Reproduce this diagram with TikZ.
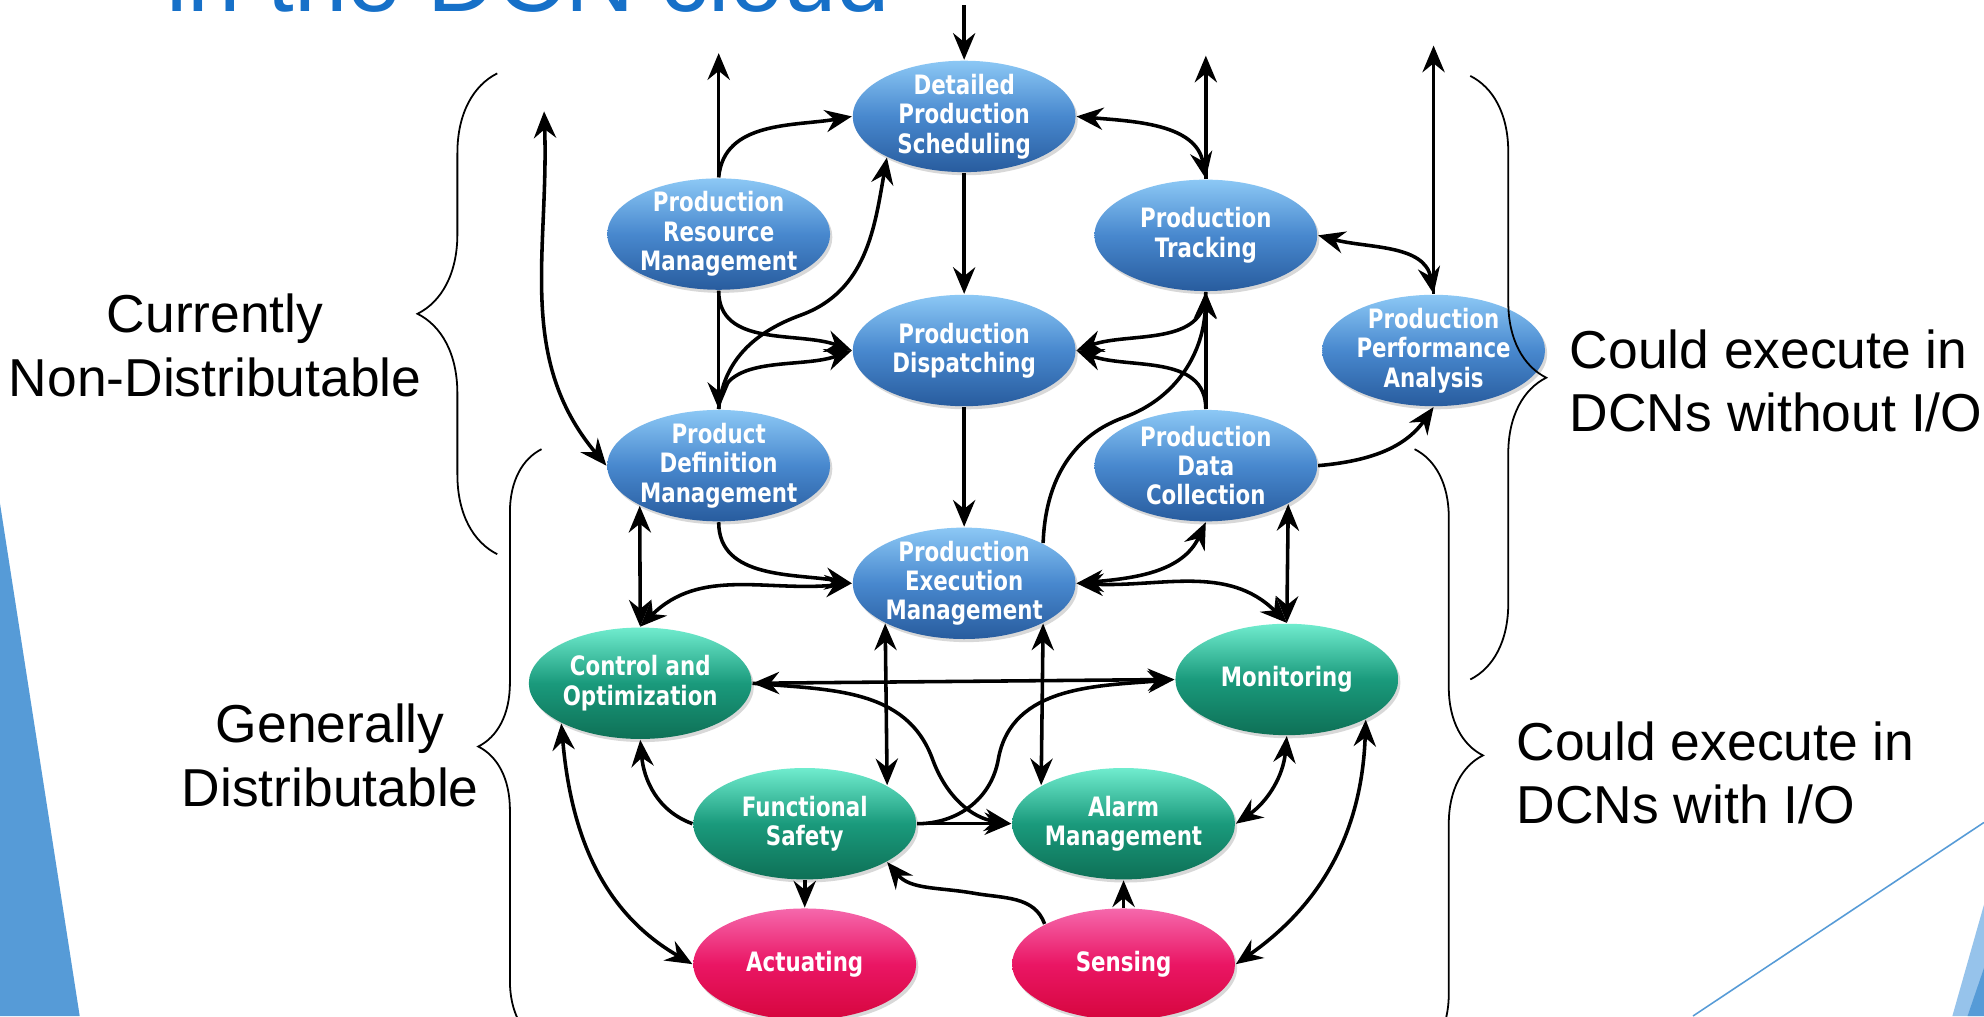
\documentclass[tikz,border=0pt]{standalone}
\usepackage{fontspec}
\setmainfont{Liberation Sans}
\newfontfamily\bubblefont{DejaVu Sans}[FakeStretch=0.8]
\usetikzlibrary{shapes.geometric,arrows.meta,decorations.pathreplacing,shadows}
\definecolor{planhi}{RGB}{140,200,245}
\definecolor{planmid}{RGB}{72,136,206}
\definecolor{planlo}{RGB}{40,92,158}
\definecolor{ctrlhi}{RGB}{112,236,206}
\definecolor{ctrlmid}{RGB}{26,154,124}
\definecolor{ctrllo}{RGB}{14,112,86}
\definecolor{iohi}{RGB}{245,104,172}
\definecolor{iomid}{RGB}{234,22,100}
\definecolor{iolo}{RGB}{214,6,62}
\definecolor{titleblue}{RGB}{22,112,200}
\definecolor{slideblue}{RGB}{86,155,215}
\definecolor{slidelight}{RGB}{150,195,235}

\begin{document}
\begin{tikzpicture}[x=0.01cm,y=-0.01cm,
  >={Stealth[length=6pt,width=5pt,inset=2pt]},
  bubble/.style={ellipse,minimum width=1.76cm,minimum height=0.88cm,
    inner xsep=-1pt,inner ysep=-5pt,align=center,text=white,
    font=\bubblefont\bfseries\fontsize{6}{6.6}\selectfont,
    drop shadow={shadow xshift=0.5pt,shadow yshift=-0.7pt,opacity=0.3}},
  planbubble/.style={bubble,top color=planhi,bottom color=planlo,middle color=planmid},
  ctrlbubble/.style={bubble,top color=ctrlhi,bottom color=ctrllo,middle color=ctrlmid},
  iobubble/.style={bubble,top color=iohi,bottom color=iolo,middle color=iomid},
  link/.style={line width=0.8pt},
  bracket/.style={decorate,decoration={brace,amplitude=#1},line width=0.4pt},
  sidetext/.style={inner sep=0pt,font=\fontsize{12}{14.2}\selectfont}]
\path[fill=white,use as bounding box] (0,0) rectangle (1568,803);

\fill[slideblue] (0,398) -- (63,803) -- (0,803) -- cycle;
\draw[slideblue,line width=0.35pt] (1338,803) -- (1568,650);
\fill[slidelight] (1568,715) -- (1543,803) -- (1568,803) -- cycle;
\fill[slideblue] (1568,765) -- (1555,803) -- (1568,803) -- cycle;

\node[anchor=base west,inner sep=0pt,text=titleblue,font=\fontsize{21.5}{26}\selectfont]
  (title) at (131,9) {in the DCN cloud};

\node[planbubble] (dps) at (762,92) {Detailed\\Production\\Scheduling};
\node[planbubble] (prm) at (568,185) {Production\\Resource\\Management};
\node[planbubble] (pt) at (953,186) {Production\\Tracking};
\node[planbubble] (pd) at (762,277) {Production\\Dispatching};
\node[planbubble] (ppa) at (1133,277) {Production\\Performance\\Analysis};
\node[planbubble] (pdm) at (568,368) {Product\\Definition\\Management};
\node[planbubble] (pdc) at (953,368) {Production\\Data\\Collection};
\node[planbubble] (pem) at (762,461) {Production\\Execution\\Management};
\node[ctrlbubble] (co) at (506,540) {Control and\\Optimization};
\node[ctrlbubble] (mon) at (1017,537) {Monitoring};
\node[ctrlbubble] (fs) at (636,651) {Functional\\Safety};
\node[ctrlbubble] (am) at (888,651) {Alarm\\Management};
\node[iobubble] (act) at (636,762) {Actuating};
\node[iobubble] (sen) at (888,762) {Sensing};

\coordinate (dpsin) at (762,4);
\coordinate (prmout) at (568,42);
\coordinate (ptout) at (953,44);
\coordinate (ppaout) at (1133,36);
\coordinate (pdmfar) at (430,88);
\coordinate (bendL) at (633,249);
\coordinate (bendR) at (888,330);
\coordinate (bendC) at (737,600);
\coordinate (bendF) at (789,600);
\coordinate (bendS) at (770,706);

\draw[link,->] (dpsin) -- (dps);
\draw[link,->] (prm.north) -- (prmout);
\draw[link,->] (prm.north) to[out=85,in=190] (dps.west);
\draw[link,<->] (pdmfar) to[out=-88,in=130] (pdm.west);
\draw[link,->] (dps) -- (pd);
\draw[link,->] (pd) -- (pem);
\draw[link,<->] (dps.east) to[out=-5,in=100] (pt.north);
\draw[link,->] (pt.north) -- (ptout);
\draw[link,->] (ppa.north) -- (ppaout);
\draw[link,<->] (pt.east) to[out=-15,in=100] (ppa.north);
\draw[link,->] (prm.south) -- (pdm.north);
\draw[link,->] (prm.south) to[out=-90,in=160] (pd.west);
\draw[link,->] (pdm.north) to[out=90,in=200] (pd.west);
\draw[link,->] (pdm.north) to[out=85,in=200] (bendL) to[out=20,in=-100] (dps.208);
\draw[link,->] (pdc.north) -- (pt.south);
\draw[link,->] (pdc.north) to[out=90,in=-20] (pd.east);
\draw[link,->] (pt.south) to[out=-90,in=20] (pd.east);
\draw[link,->] (pem.27) to[out=88,in=200] (bendR) to[out=20,in=-92] (pt.south);
\draw[link,->] (pdm.south) to[out=-90,in=170] (pem.west);
\draw[link,<->] (pdm.-153) -- (co.north);
\draw[link,<->] (co.north) to[out=45,in=186] (pem.west);
\draw[link,<->] (pem.east) to[out=5,in=-115] (pdc.south);
\draw[link,<->] (pem.east) to[out=-3,in=135] (mon.north);
\draw[link,<->] (pdc.-25) -- (mon.north);
\draw[link,->] (pdc.east) to[out=5,in=-125] (ppa.south);
\draw[link,<->] (pem.-153) -- (fs.25);
\draw[link,<->] (pem.-27) -- (am.155);
\draw[link,<->] (co.east) -- (mon.west);
\draw[link,->] (co.east) to[out=-5,in=110] (bendC) to[out=-70,in=172] (am.west);
\draw[link,->] (fs.east) -- (am.west);
\draw[link,->] (fs.east) to[out=0,in=-100] (bendF) to[out=80,in=185] (mon.west);
\draw[link,->] (fs.west) to[out=160,in=-85] (co.south);
\draw[link,<->] (co.-153) to[out=-85,in=150] (act.west);
\draw[link,->] (fs) -- (act);
\draw[link,->] (sen.153) to[out=110,in=-10] (bendS) to[out=170,in=-50] (fs.-25);
\draw[link,->] (sen) -- (am);
\draw[link,<->] (mon.south) to[out=-95,in=35] (am.east);
\draw[link,<->] (mon.-27) to[out=-92,in=35] (sen.east);

\draw[bracket=0.63cm] (393,438) -- (393,58);
\draw[bracket=0.5cm] (428,825) -- (428,355);
\draw[bracket=0.6cm] (1162,60) -- (1162,537);
\draw[bracket=0.54cm] (1118,355) -- (1118,839);

\node[sidetext,align=center] (curnd) at (170,273) {Currently\\Non-Distributable};
\node[sidetext,align=center] (gendist) at (261,597) {Generally\\Distributable};
\node[sidetext,align=left,anchor=west] (dcnnoio) at (1240,301) {Could execute in\\DCNs without I/O};
\node[sidetext,align=left,anchor=west] (dcnio) at (1198,611) {Could execute in\\DCNs with I/O};
\end{tikzpicture}
\end{document}
